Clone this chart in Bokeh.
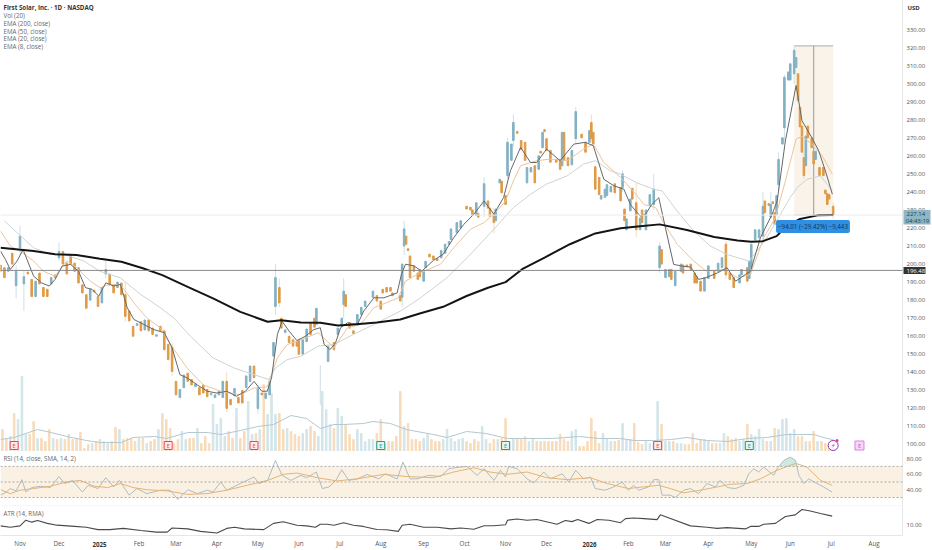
from bokeh.plotting import figure
from bokeh.layouts import column
from bokeh.models import Range1d, LinearAxis, FixedTicker, NumeralTickFormatter, Label, Span, BoxAnnotation
from bokeh.core.properties import value
from bokeh.embed import file_html
from bokeh.resources import INLINE

bars = [0,2,4,6,8,10,12,14,16,18,20,22,24,26,28,30,32,34,36,38,40,42,44,46,48,50,52,54,56,58,60,62,64,66,68,70,72,74,76,78,
        80,82,84,86,88,90,92,94,96,98,100,102,104,106,108,110,112,114,116,118,120,122,124,126,128,130,132,134,136,138,140,141,143,144,146,148,150,152,153,155,
        157,159,161,162,168,171,173,175,176,177,179,181,183,185,187,191,193,195,196,198,200,201,205,206,207,208,209,210,212,214,215,217,218,220,222,224,226,228,230,231,
        234,236,239,241,242,244,245,248,250,251,253,254,256,257,259,260,262,263,265,267,269,270,272,274,276,277,278,279,280,282,285,287,288,289,291,293,295,298,300,302,
        303,304,305,307,308,310,311,313,315,318,319,320,321,323,324,326,328,329,331,333,335,338,339,341,343,344,346,349,350,352,354,356,357,359,361,363,366,368,370,372,
        374,376,379,380,383,384,385,387,389,391,392,394,395,396,397,398,399,401,402,404,405,407,408,409,410,411,412,413,414,416,417,418,420,422,423,424,425,427]
opens = [199.5,198,196,206,188,209,189,195.5,191.5,182,195,187,186,189,194,203.5,207,200.5,205,200.5,198,188.5,183,180,185.5,182,178.5,194.5,194.5,188.5,187,189.5,183,174,165.5,166,168,163.5,169,164.5,
         160,165.5,163,155.5,154,135,126,131.5,139.5,136,132,131.5,133,130.5,127.5,126,127.5,126,135,125,127,126,130,131.5,135,143.5,120,128.5,125.5,127.5,149,176.5,187,170,162,160,158,157,158,150,
         157,167,170,166.5,146,156.5,161,165.5,177.5,183,167.5,163,166,172,176.5,181.5,182.5,179.5,186,187,187,184,182.5,181.5,210,215.5,208.5,204.5,199,195,197,190.5,198,205.5,204.5,203,203.5,206,211,213.5,
         217.5,220,232,231.5,230,227,228,232,235,231,227.5,224,245,246,238,249,257.5,268.5,273.5,268.5,267.5,245,251,254.5,252.5,262.5,264.5,274.5,269.5,263,258,258,254.5,273,259,255,269.5,272,267.5,267.5,
         278.5,273,254,248,236,237,238,240,244.5,242.5,242.5,230.5,219,229.5,242,234,219,230,219,232.5,233,198,208,192.5,193,197,188,196,199.5,199.5,200,195,193,190.5,185,192,196,196,198,211,
         195,192.5,189.5,194,198,192,198,213.5,214.5,215.5,235,233.5,226,234.5,228.5,227.5,244,266.5,275.5,302,302,305.5,309,305.5,287,276.5,259,254.5,276.5,270,262.5,258,253.5,253.5,241,239,238.5,232]
closes = [196,192.5,198,200,196,215.5,193,194.5,182,190.5,189,182,182,192.5,192.5,207,200,194.5,200,196,189.5,184,175.5,186,184.5,176.5,187,197,188.5,184,190,183,171,168.5,160,167,163,169,163,161,
          160.8,163,152.5,147,140.5,127.5,130.5,138.5,135,133,133.5,127.5,128.5,126.5,128.2,127.5,129.5,135,120,122,131,123,123,138,143.5,137,131,127.5,128.5,135,156.5,192.5,178.5,164.5,163.5,156.5,154.5,154.5,150,158,
          164,161,165,175.5,154.5,152.5,164.5,170,185,176.5,164.5,161.5,172,176,179.5,185,179.5,175,184,184.5,185,182.5,179.5,200,219.5,211,207.5,192.5,196,191.5,193,196,201.5,204,202.5,202,207.5,211,212.5,219.5,
          223,224,230.5,230,227,234,226,244.5,231,226.5,223,230.5,247,239.5,233,267.5,266.5,278.5,272.5,263.5,257.5,253.5,253.5,245,260,261.5,273,273.5,263,256.5,256.5,252.5,273,257.5,254.5,263,284.5,270,262,274,
          269.5,266.5,241.5,238.5,238,241.5,244,243,239.5,235,250,224,225,236,236,219,225.5,223,230,238.5,241.5,210,200,197,197,191.5,196,200,195,198.5,197,189.5,189.5,185,192.5,199,192,200.5,203.5,194,
          191.5,187,194,197,190.5,201.5,211,219,219,232,228.5,232.5,233,233.5,222,238,258,270,303.5,306.5,311,318.5,314.5,290.5,276,262,249,271,270,264.5,255.5,262.5,249,249,239,233,236,227.14]

wick_bars = [8,10,12,30,54,64,88,116,132,141,143,164,176,206,207,248,253,260,263,295,303,319,326,335,338,372,391,395,399,402,407,412,427]
wick_highs = [199,221,196,212,203,190,156,140,133,200,192,144,192,200,224,248,231,270,283,287,283,252,245,250,212,213,240,240,262,305,321,262,234]
wick_lows = [181,205,174,202,192,168,138,118,117,172,176,122,170,176,205,226,217,247,265,267,267,240,215,230,195,192,213,225,240,268,300,247,225]

ema200_bars = [0,17,28,39,51,62,73,83,96,109,123,137,144,154,164,173,181,193,205,215,227,239,250,259,268,279,292,305,318,328,338,352,366,378,385,391,398,403,410,419,427]
ema200 = [209,207.3,205.4,205,202.9,201.3,197.7,193.9,187.4,181,173.5,168,168.9,167.6,167.5,166,166.5,167.6,169.3,172.6,176.3,182.3,186.9,190,197.5,203.6,211,217,219.9,221,222,218.9,215,213,212.4,212.7,215.5,221,225,227,227.2]

ema8_bars = [0,2.5,5,8.5,11.6,14.5,17,21,25,28,31.6,36,40,43.6,47,50.4,54,58,61.5,65,68.4,73.5,78.6,84,88,92,95.7,101,106,111,116,121,125.6,130,134,136.8,139,142,144.4,148,152,156.4,160.7,
             164,166,169,171.8,174.4,178,183,186.3,191.5,196.6,203.4,205.6,207.7,212,216,222,227,232.5,237.6,242.7,248,253,258,261.5,266.7,271.8,275,280,287,294,300,304,309.4,314.5,319.7,323,328,330.7,334,337.6,341,345.2,349.5,354,358,361.5,367.5,372.6,377,382,384.6,389.7,395.7,398.3,402.5,408,411,416,419.6,423,426.6]
ema8 = [207.2,202.6,197,201.7,208,200,193.3,189.6,187.8,191.5,198.9,199.8,196,186.9,186,182.2,189.6,187.8,188.7,175.8,169.3,166.5,163.7,161.9,153.5,138.7,136.9,133,129.5,128.5,129.5,126.7,129.5,135,129.5,129.5,136.9,161,168.3,162.8,157.6,160,163.7,
        164.7,155.4,152.6,156.3,164.7,167.5,166.5,174,181.3,181.3,184,194.3,199.9,199,196,202,205.4,214.7,222,227.6,235,227.6,236.9,251.7,264.7,256.3,256.3,263.7,257.3,266.5,267.5,265.6,247,243.4,241.5,233,226.6,227.6,233,236.8,220,199.8,198.9,198.3,191.5,192.4,195,198,190.5,194.2,196,214.6,227.6,235,268.3,299,279.5,270.2,262.8,251.7,238.7]

ema20_bars = [0,5,10,17,22,28,34,39,46,51,56,61.5,68.4,75,82,89,95.7,104,113,123,130,136.8,142,147,154,163,171,178,184.6,191.5,198,204,207.7,215.4,225.6,232.5,241,248,254.7,259,263,266.7,275,282,290.6,299,304,309.4,318,326.4,330,336,340,347,355.5,362,371,378,384.6,391.4,397.4,402.5,408,411,416,421.4,426.6]
ema20 = [218.3,210,207.2,201.7,196,193.3,201.7,198,190.6,186.9,188.7,188.7,178.5,170.2,164.6,152.6,142.4,133,129.5,127.6,131.3,132,148,155.4,158,161.9,153.6,164.7,166.5,175.8,178.6,181.3,190.6,195.2,199.9,209.1,219.3,223,229.5,235,246,254.5,257.3,258.2,257.3,263.7,266.5,256.3,248,238,233,231.3,223,211,201.6,196,197,192.4,194.2,214.6,225.8,246,269.3,270.8,266.5,260,249.8]

ema50_bars = [2,8.5,17,25.6,32.5,42.7,51,61.5,71.8,82,89,97.4,109,119.7,130,137.6,141,147,154,163,171,181,191.5,205,215.4,229,241,253,263,271.8,280,290.6,299,305,312.8,318,326.4,335,339.3,347,355.5,364,372.6,384,393,399,405,408.5,413.7,420.5,426.6]
ema50 = [223.9,217.4,209,205.4,205.4,201.7,196,192.4,183.2,175.8,170,160,148,142.4,138.7,136,142.4,147,148.9,154.5,155.4,161,166.5,173.9,181.3,192.5,205.4,219.3,231.3,238.7,244.3,248.9,255.4,257.3,251.7,249.8,245,241.5,240.5,229.4,218.3,210,205.3,201.6,214.6,225.8,236.9,242.4,247,248.9,240.6]

volumes = [2.2,1.3,1.5,3.8,3.2,7.5,1.7,1.7,3.0,1.3,1.3,1.0,2.2,1.3,1.2,1.3,1.2,1.7,1.2,1.3,1.9,0.3,0.7,0.8,1.0,1.2,1.0,0.8,1.0,2.4,2.2,1.2,1.3,1.3,1.0,1.3,1.3,0.8,1.0,1.2,
           2.2,3.8,3.2,2.3,0.8,1.2,2.0,1.2,1.3,1.3,2.3,0.8,1.5,0.8,4.7,2.7,3.3,1.5,2.0,1.3,4.3,1.3,2.0,5.0,1.7,1.8,2.2,6.7,3.7,5.8,3.7,3.8,2.2,2.3,2.0,1.7,1.5,1.8,2.2,2.5,2.0,
           1.5,6.0,4.2,2.7,2.3,4.3,3.5,2.7,1.7,1.2,2.2,1.8,1.0,1.2,1.2,1.8,3.2,0.8,1.0,1.0,1.5,6.0,2.5,2.8,1.2,1.2,1.0,1.3,1.7,1.2,1.0,1.0,1.2,2.2,1.3,1.0,1.2,1.3,1.0,0.8,1.2,1.0,2.5,1.2,0.8,1.2,1.2,1.3,3.3,1.0,1.3,1.2,1.2,1.5,1.0,1.2,1.0,1.0,1.0,1.0,1.0,1.0,1.7,1.2,1.0,2.0,2.2,0.5,0.5,1.0,3.3,2.0,0.8,1.8,1.2,1.0,1.0,1.1,2.8,1.2,
           1.2,2.8,0.9,0.7,1.0,0.8,1.0,5.0,2.7,1.0,1.0,1.0,0.8,0.8,0.7,0.7,1.8,0.8,1.2,1.2,1.0,0.8,0.8,0.8,1.8,1.5,1.2,1.3,1.0,1.2,2.7,1.7,1.5,2.2,1.2,1.0,1.0,2.3,2.2,3.2,3.3,1.8,2.2,1.5,1.5,1.0,1.0,2.0,1.0,1.0,0.8,0.9,0.7]

vol_ma_bars = [0,7,13,19,26,34,44,51,62,68,79,85,96,106,113,123,132,140,149,157,164,171,176,186,191,200,208,222,229,239,249,260,270,277,283,297,307,318,325,335,344,352,362,373,383,393,403,417,424,427]
vol_ma = [1.2,1.4,1.8,2.2,1.9,1.5,1.1,0.9,0.9,1.4,1.5,1.3,1.9,1.9,1.7,2.1,2.5,2.7,3.6,3.3,2.3,2.7,2.7,2.8,3.0,2.8,2.2,1.7,1.4,2.0,1.8,1.3,1.3,1.3,1.3,1.5,1.3,1.3,1.1,1.1,1.2,1.4,1.1,1.0,1.3,1.4,1.7,1.7,1.3,1.2]

rsi_bars = [0,3,5,8,11,13,16,20.5,25.6,30,33,37,42,45,50,54,58,61,66,70,75,82,87,91,96,101,106,109,113,116,123,130,132.5,137,141,144.4,149,154,157,162,165,168.5,172,175,178.6,183,188,194,197.4,203.4,206.4,210,213.6,219.6,225.6,230,233,239.3,244.4,248,253,256.4,259,260.6,265,270,273.5,278.6,282,288,291.4,295,299,302.5,305,310,314.5,
            318.8,322,324.7,327.3,332.4,335,337.6,339.3,343.5,346,350.4,353.8,358,362.3,366.6,369,372.6,376.9,381.2,383.7,386.3,388.8,391.4,396.5,398.2,401.7,405,407.7,409.4,412,414.5,418.7,422,426.5]
rsi = [33,37,41.5,38.5,53,37,42.8,44.5,42.8,57,48,52,37,45.7,41.5,55.5,43.6,52,33,41.5,35,39.4,39.4,27.4,40,35,39.4,37,50,39.4,48,56.4,48,52,77.7,58.5,52,58.5,55.5,62.8,41.5,43.6,52,65.7,52,54,59.6,54,60.6,54,75.5,54,54,58.5,57,67,68.3,70,58.5,67,52,65,56.4,70,67,54,48.7,62.8,54,60.6,50,65,54,56.4,41.5,39.4,43.6,
       50,39.4,45.7,39.4,43.6,53,53,33,33,30,39.4,41.5,35,48,43.6,52,42.8,41.5,45.7,60.6,67,62.8,69,58.5,67,77.7,82,77.7,58.5,48,54,48,43.6,37]
rsi_ma_bars = [0,5,10,17,25.6,34,41,48,55,61.5,68,75,85.5,96,106,116,126.5,137,145,152,162.4,172.6,183,196.5,208.5,222,232.4,242.7,251,260,270,280,290.5,302.5,311,322,326.4,337.6,343.5,350.4,359,367.5,374.3,383,389.7,398.2,407.7,413.6,420.5,426.5]
rsi_ma = [40,35,39.4,41.5,44.5,50,52,44.5,42.8,48,42.8,40,38.5,34,35,39.4,45.7,52,59.8,61.5,55.5,51.3,54,59.8,57,55.5,62.8,68.3,62.8,59.8,62.8,55.5,53,55.5,48,41.5,42.8,45.7,41.5,36,39.4,43.6,47,48,54,65,74,69,52,45.7]

atr_bars = [0,5,10,13,16,19,24,29,38,44,50,56,63,72,80,85.5,88,96,102.6,111,116,120,125,135,140,145,152,157,161.5,164,167.5,171,176,181,186,193,198,204,206,210,217,224,231,236,242.7,248,253,259,260,264.9,270,275,285.4,289.7,293,296,301.7,306,312,318,320.5,324.7,330,336.7,338.4,341.8,353.8,362.3,367.5,372.6,382,384.6,388.8,391.4,397.4,402.5,407.6,411,415.3,420.5,426.5]
atr = [9.6,8.8,9.6,12.8,11.7,12.6,11,10,9.3,8.8,7.5,7.5,8.2,7,6.1,6.1,8.4,7.9,6.5,5.6,8.2,8.8,7.9,7.5,11,11.9,10,9.6,8.8,10.5,10.5,10,11.4,10,9.3,7.6,7.4,6.5,10,10.5,8.8,8.8,7.9,8.4,7.7,9.7,9.7,10.2,12.8,13.5,12.8,13.2,10.5,12.6,12,13.2,11,13.2,12.8,11.4,13.7,14,13.7,13.1,15.8,14.5,9.6,8.8,8.2,8.6,7.9,9.3,9.3,10.5,11,14.9,15.8,18.8,18,16.6,15.1]

price_ticks = list(range(100, 340, 10))
rsi_ticks = [40, 60, 80]
atr_ticks = [10]
month_ticks = [10,30,51,71,90,111,132,153,174,195,217,238,259,280,301,322,341,363,385,405,426,448]
month_labels = ["Nov","Dec","","Feb","Mar","Apr","May","Jun","Jul","Aug","Sep","Oct","Nov","Dec","","Feb","Mar","Apr","May","Jun","Jul","Aug"]
year_labels = ["2025", "2026"]
legend_rows = ["Vol (20)", "EMA (200, close)", "EMA (50, close)", "EMA (20, close)", "EMA (8, close)"]
last_price = 227.14
level_price = 196.48
measure_high = 321
measure_left, measure_right = 407, 427
earn_bars = [7, 86, 130, 195, 259, 337, 384]
earn_colors = ["#e8475a", "#e8475a", "#e8475a", "#17a08c", "#17a08c", "#e8475a", "#17a08c"]
earn_fills = ["#fde9eb", "#fde9eb", "#fde9eb", "#e3f5f1", "#e3f5f1", "#fde9eb", "#e3f5f1"]

FONT = "Open Sans"
TXT = "#555555"
BLUE, ORANGE = "#82b1c3", "#df9a45"
XR = (0, 462.56)
W_R = 30
W = 932
AXF = "6px"
LEGF = "6.2px"
BAR_W = 0.8

def pane(h, yr, bottom=0):
    f = figure(width=W, height=h, x_range=Range1d(*XR), y_range=Range1d(*yr), output_backend="svg",
               toolbar_location=None, min_border_left=0, min_border_top=0, min_border_right=W_R,
               min_border_bottom=bottom, y_axis_location="right", background_fill_color="white",
               border_fill_color="white", outline_line_color=None)
    f.grid.visible = False
    f.xaxis.visible = False
    ax = f.yaxis[0]
    ax.axis_line_color = "#e6e6e6"
    ax.major_tick_line_color = None
    ax.minor_tick_line_color = None
    ax.major_tick_out = 0
    ax.major_tick_in = 0
    ax.minor_tick_out = 0
    ax.minor_tick_in = 0
    ax.major_label_standoff = 4
    ax.major_label_text_font = FONT
    ax.major_label_text_font_size = AXF
    ax.major_label_text_color = TXT
    ax.formatter = NumeralTickFormatter(format="0.00")
    return f

def lab(f, x, y, t, size=LEGF, color=TXT, style="normal", **kw):
    f.add_layout(Label(x=x, y=y, x_units="canvas", y_units="canvas", text=t, text_font=FONT, text_font_size=size,
                       text_color=color, text_font_style=style, text_baseline="middle", **kw))

# ---------- price pane ----------
p = pane(451, (96.1, 346.1))
p.yaxis[0].ticker = FixedTicker(ticks=price_ticks)
p.extra_y_ranges = {"vol": Range1d(0, 45.1)}

is_up = dict(zip(bars, [c >= o for o, c in zip(opens, closes)]))
def up_at(b):
    near = min(bars, key=lambda k: abs(k - b))
    return is_up[near]

vol_bars = [1 + 2 * j for j in range(len(volumes))]
vol_cols = ["#d3e5ea" if up_at(b) else "#f7dcbb" for b in vol_bars]
p.vbar(x=vol_bars, top=volumes, bottom=0, width=BAR_W, color=vol_cols, y_range_name="vol")
p.line(vol_ma_bars, vol_ma, line_color="#b4c8cf", line_width=1, y_range_name="vol")

p.quad(left=[measure_left], right=[measure_right], bottom=[last_price], top=[measure_high],
       fill_color="#f9f3ea", line_color=None)
p.segment([measure_left], [measure_high], [measure_right], [measure_high], line_color="#bdbdbd", line_width=1.2)
p.segment([measure_left], [last_price], [measure_right], [last_price], line_color="#c8c8c8", line_width=1)
p.segment([(measure_left + measure_right) / 2], [measure_high], [(measure_left + measure_right) / 2], [last_price],
          line_color="#a8a8a8", line_width=1.2)

p.add_layout(Span(location=last_price, dimension="width", line_color="#ececec", line_width=1))
p.add_layout(Span(location=level_price, dimension="width", line_color="#8a8a8a", line_width=1))

wick_cols = ["#cfe0e6" if up_at(b) else "#f3dcc2" for b in wick_bars]
p.segment(wick_bars, wick_highs, wick_bars, wick_lows, line_color=wick_cols, line_width=1)
cols = [BLUE if c >= o else ORANGE for o, c in zip(opens, closes)]
p.vbar(x=bars, top=[max(a, b) for a, b in zip(opens, closes)], bottom=[min(a, b) for a, b in zip(opens, closes)],
       width=BAR_W, color=cols)

p.line(ema50_bars, ema50, line_color="#cfd3d0", line_width=1)
p.line(ema20_bars, ema20, line_color="#ecc49c", line_width=1)
p.line(ema8_bars, ema8, line_color="#65686b", line_width=1)
p.line(ema200_bars, ema200, line_color="#141414", line_width=2)

p.scatter(x=earn_bars, y=[0.6] * len(earn_bars), marker="square", size=8, fill_color=earn_fills,
          line_color=earn_colors, line_width=1, y_range_name="vol")
p.text(x=earn_bars, y=[0.6] * len(earn_bars), text=["E"] * len(earn_bars), text_color=earn_colors,
       text_font=value(FONT), text_font_size="5.5px", text_align="center", text_baseline="middle", y_range_name="vol")
p.scatter(x=[427], y=[0.6], marker="circle", size=10, fill_color="white", line_color="#8b2fc4", line_width=1, y_range_name="vol")
p.text(x=[427], y=[0.6], text=["\u26a1"], text_color="#8b2fc4", text_font=value("DejaVu Sans"), text_font_size="6.5px",
       text_align="center", text_baseline="middle", y_range_name="vol")
p.scatter(x=[429], y=[1.1], marker="circle", size=3, fill_color="#e8475a", line_color=None, y_range_name="vol")
p.scatter(x=[440.5], y=[0.6], marker="square", size=9, fill_color="#f5d6f7", line_color="#de7fe6", line_width=1, y_range_name="vol")
p.text(x=[440.5], y=[0.6], text=["E"], text_color="#c94fd6", text_font=value(FONT), text_font_size="5.5px",
       text_align="center", text_baseline="middle", y_range_name="vol")

lab(p, 3, 7, "First Solar, Inc. \u00b7 1D \u00b7 NASDAQ", color="#333333", style="bold")
for row_y, row in zip([15, 23, 30.5, 38, 46], legend_rows):
    lab(p, 3, row_y, row, color="#666666")

p.add_layout(Label(x=812.5, y=226, x_units="canvas", y_units="canvas", text="\u221294.01 (\u221229.42%) \u22129,443", text_font=FONT,
                   text_font_size=LEGF, text_color="#13355a", text_align="center", text_baseline="middle",
                   background_fill_color="#2f8fe3", padding=2, border_radius=2))

# ---------- RSI pane ----------
r = pane(54, (19.7, 89.2))
r.yaxis[0].ticker = FixedTicker(ticks=rsi_ticks)
r.add_layout(BoxAnnotation(bottom=30, top=70, fill_color="#fbf1e3", fill_alpha=1, line_color=None, level="underlay"))
for lvl in (30, 50, 70):
    r.add_layout(Span(location=lvl, dimension="width", line_color="#a9a9a9", line_width=1, line_dash="2 2"))
r.varea(x=[399, 401.7, 405, 407.7, 408.5], y1=[70, 70, 70, 70, 70], y2=[70, 77.7, 82, 77.7, 70], fill_color="#cfe9de")
r.line(rsi_bars, rsi, line_color="#aebcc0", line_width=1)
r.line(rsi_ma_bars, rsi_ma, line_color="#e2b476", line_width=1)
lab(r, 3, 6.5, "RSI (14, close, SMA, 14, 2)", color="#666666")

# ---------- ATR pane ----------
a = pane(45, (4.2, 21.05), bottom=13)
a.yaxis[0].ticker = FixedTicker(ticks=atr_ticks)
a.line(atr_bars, atr, line_color="#4a4a4a", line_width=1.1)
a.add_layout(Span(location=21.0, dimension="width", line_color="#eeeeee", line_width=1))
xa = LinearAxis(ticker=FixedTicker(ticks=month_ticks),
                major_label_overrides={t: s for t, s in zip(month_ticks, month_labels)},
                axis_line_color="#e6e6e6", major_tick_line_color=None, minor_tick_line_color=None,
                major_tick_out=0, major_tick_in=0, minor_tick_out=0, minor_tick_in=0,
                major_label_standoff=3, major_label_text_font=FONT, major_label_text_font_size=LEGF,
                major_label_text_color=TXT)
a.add_layout(xa, "below")
lab(a, 3, 8, "ATR (14, RMA)", color="#666666")

# ---------- overlay: texts that sit outside the panes' frames ----------
o = figure(width=W, height=550, x_range=Range1d(0, W), y_range=Range1d(550, 0), output_backend="svg",
           toolbar_location=None, min_border=0, background_fill_alpha=0, border_fill_alpha=0,
           outline_line_color=None, styles={"position": "absolute", "left": "0px", "top": "0px"})
o.axis.visible = False
o.grid.visible = False
o.quad(left=[903], right=[925], top=[266.5], bottom=[273.5], fill_color="#333333", line_color=None)
o.quad(left=[903], right=[930], top=[209.5], bottom=[224], fill_color="#8fb6c3", line_color=None)
def otext(x, y, t, color, style="normal", align="left", size=AXF):
    o.text(x=[x], y=[y], text=[t], text_color=color, text_font=value(FONT), text_font_size=size,
           text_font_style=style, text_align=align, text_baseline="middle")
otext(906, 270, f"{level_price:.2f}", "#ffffff")
otext(906, 213.5, f"{last_price:.2f}", "#21444f")
otext(905, 220, "04:43:19", "#21444f")
otext(907, 7, "USD", "#333333", style="bold")
for t, s in zip([99, 589], year_labels):
    otext(t, 544, s, "#333333", style="bold", align="center", size=LEGF)

page = column(p, r, a, spacing=0, styles={"position": "absolute", "left": "0px", "top": "0px"})
open("out.html", "w").write(file_html([page, o], INLINE))
